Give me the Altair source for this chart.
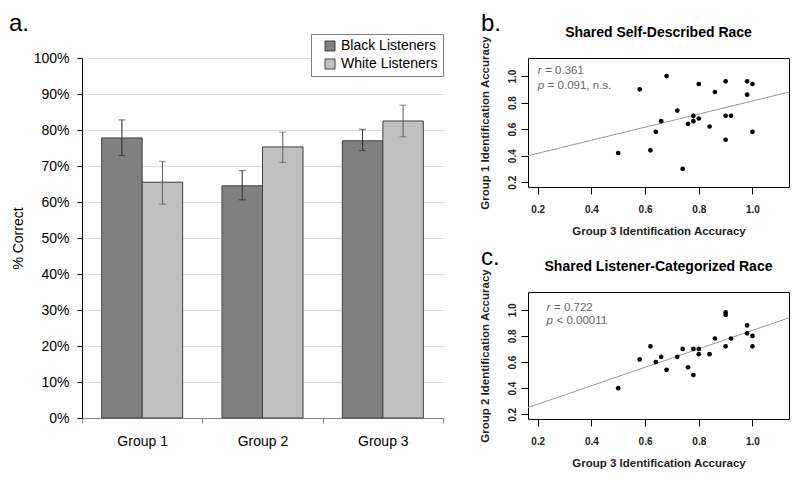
import altair as alt
import pandas as pd

FONT = "Liberation Sans"

# ---------------- panel a: bar chart ----------------
groups = ["Group 1", "Group 2", "Group 3"]
listeners = ["Black Listeners", "White Listeners"]
black_mean = [0.778, 0.645, 0.770]
white_mean = [0.655, 0.753, 0.825]
black_lo = [0.729, 0.606, 0.743]
black_hi = [0.828, 0.687, 0.802]
white_lo = [0.594, 0.710, 0.781]
white_hi = [0.713, 0.794, 0.869]
y_ticks = [0.0, 0.1, 0.2, 0.3, 0.4, 0.5, 0.6, 0.7, 0.8, 0.9, 1.0]
bar_colors = ["#808080", "#c0c0c0"]
err_colors = ["#2a2a2a", "#5a5a5a"]

# ---------------- panels b and c: scatter ----------------
group3_acc = [0.50, 0.58, 0.62, 0.64, 0.66, 0.68, 0.72, 0.74, 0.76, 0.78, 0.78, 0.80,
              0.80, 0.84, 0.86, 0.90, 0.90, 0.90, 0.92, 0.98, 0.98, 1.00, 1.00]
group1_acc = [0.42, 0.90, 0.44, 0.58, 0.66, 1.00, 0.74, 0.30, 0.64, 0.70, 0.66, 0.94,
              0.68, 0.62, 0.88, 0.96, 0.70, 0.52, 0.70, 0.96, 0.86, 0.94, 0.58]
group2_acc = [0.40, 0.62, 0.72, 0.60, 0.64, 0.54, 0.64, 0.70, 0.56, 0.70, 0.50, 0.70,
              0.66, 0.66, 0.78, 0.98, 0.96, 0.72, 0.78, 0.88, 0.82, 0.80, 0.72]
sc_ticks = [0.2, 0.4, 0.6, 0.8, 1.0]
sc_domain = [0.164, 1.136]

bar_df = pd.DataFrame({
    "group": groups * 2,
    "listener": [listeners[0]] * 3 + [listeners[1]] * 3,
    "mean": black_mean + white_mean,
    "lo": black_lo + white_lo,
    "hi": black_hi + white_hi,
    "ecolor": [err_colors[0]] * 3 + [err_colors[1]] * 3,
})

BW, BH = 361, 360

x_scale = alt.Scale(domain=groups, paddingInner=0, paddingOuter=0)
xo_scale = alt.Scale(domain=listeners, paddingInner=0, paddingOuter=0.485)

x_enc = alt.X("group:N", scale=x_scale, sort=groups,
              axis=alt.Axis(title=None, labelAngle=0, tickBand="extent",
                            labelFont=FONT, labelFontSize=14, labelColor="black",
                            labelPadding=11, tickSize=5, tickColor="#868686",
                            domainColor="#868686", grid=False))
xo_enc = alt.XOffset("listener:N", scale=xo_scale, sort=listeners)
y_scale = alt.Scale(domain=[0, 1], nice=False, zero=True)

bars = alt.Chart(bar_df).mark_bar(stroke="#404040", strokeWidth=1).encode(
    x=x_enc,
    xOffset=xo_enc,
    y=alt.Y("mean:Q", scale=y_scale,
            axis=alt.Axis(values=y_ticks, tickCount=20, format=".0%", title="% Correct",
                          labelOverlap=False,
                          labelFont=FONT, labelFontSize=14, labelColor="black",
                          labelPadding=8, tickSize=5, tickColor="black",
                          domainColor="black", gridColor="#d9d9d9", grid=True,
                          titleFont=FONT, titleFontSize=14, titleFontWeight="normal",
                          titleColor="black", titlePadding=8,
                          minExtent=49, maxExtent=49)),
    color=alt.Color("listener:N", scale=alt.Scale(domain=listeners, range=bar_colors),
                    legend=alt.Legend(title=None, orient="none", legendX=229, legendY=-24,
                                      direction="vertical", symbolType="square",
                                      symbolSize=100, symbolStrokeColor="#404040",
                                      symbolStrokeWidth=1, labelFont=FONT,
                                      labelFontSize=14, labelColor="black",
                                      labelExpr="datum.label + '   '",
                                      padding=5, symbolOffset=7,
                                      strokeColor="#7f7f7f",
                                      fillColor="white", rowPadding=4, labelOffset=4)),
)

err_rule = alt.Chart(bar_df).mark_rule(strokeWidth=1).encode(
    x=alt.X("group:N", scale=x_scale, sort=groups),
    xOffset=alt.XOffset("listener:N", scale=xo_scale, sort=listeners),
    y=alt.Y("lo:Q", scale=y_scale),
    y2="hi:Q",
    stroke=alt.Stroke("ecolor:N", scale=None),
)

err_caps = alt.Chart(bar_df).transform_fold(["lo", "hi"], as_=["end", "val"]).mark_tick(
    thickness=1, size=7).encode(
    x=alt.X("group:N", scale=x_scale, sort=groups),
    xOffset=alt.XOffset("listener:N", scale=xo_scale, sort=listeners),
    y=alt.Y("val:Q", scale=y_scale),
    fill=alt.Fill("ecolor:N", scale=None),
)

a_label = alt.Chart(pd.DataFrame({"t": ["a."]})).mark_text(
    font=FONT, fontSize=24, align="left", baseline="alphabetic", color="black").encode(
    x=alt.value(-73), y=alt.value(-27), text="t:N")

bar_chart = alt.layer(bars, err_rule, err_caps, a_label).properties(width=BW, height=BH)


def scatter(xs, ys, letter, title, ytitle, r_txt, p_txt, r_y, p_y, t_x, h):
    df = pd.DataFrame({"x": xs, "y": ys})
    sx = alt.Scale(domain=sc_domain, nice=False, zero=False)
    sy = alt.Scale(domain=sc_domain, nice=False, zero=False)
    xax = alt.Axis(values=sc_ticks, tickCount=20, format=".1f", domain=False, grid=False,
                   labelOverlap=False,
                   tickSize=7, tickColor="black", labelFont=FONT, labelFontSize=10,
                   labelFontWeight="bold", labelColor="#222", labelPadding=10,
                   title="Group 3 Identification Accuracy", titleFont=FONT,
                   titleFontSize=11.5, titleFontWeight="bold", titleColor="#222",
                   titlePadding=11)
    yax = alt.Axis(values=sc_ticks, tickCount=20, format=".1f", domain=False, grid=False,
                   labelOverlap=False,
                   tickSize=7, tickColor="black", labelFont=FONT, labelFontSize=10,
                   labelFontWeight="bold", labelColor="#222", labelAngle=270,
                   labelAlign="center", labelBaseline="bottom", labelPadding=4,
                   minExtent=22, maxExtent=22,
                   title=ytitle, titleFont=FONT, titleFontSize=11.5,
                   titleFontWeight="bold", titleColor="#222", titlePadding=16)
    pts = alt.Chart(df).mark_circle(size=22, color="black", opacity=1).encode(
        x=alt.X("x:Q", scale=sx, axis=xax), y=alt.Y("y:Q", scale=sy, axis=yax))
    line = alt.Chart(df).transform_regression("x", "y", extent=sc_domain).mark_line(
        color="#9a9a9a", strokeWidth=1).encode(x="x:Q", y="y:Q")
    ann = pd.DataFrame({"x": [t_x, t_x], "y": [r_y, p_y], "sym": ["r", "p"],
                        "rest": [r_txt, p_txt]})
    sym = alt.Chart(ann).mark_text(font=FONT, fontSize=11.5, fontStyle="italic",
                                   align="left", baseline="middle", color="#666").encode(
        x="x:Q", y="y:Q", text="sym:N")
    rest_r = alt.Chart(ann).transform_filter(alt.datum.sym == "r").mark_text(
        font=FONT, fontSize=11.5, align="left", baseline="middle", color="#666", dx=7.5).encode(
        x="x:Q", y="y:Q", text="rest:N")
    rest_p = alt.Chart(ann).transform_filter(alt.datum.sym == "p").mark_text(
        font=FONT, fontSize=11.5, align="left", baseline="middle", color="#666", dx=10).encode(
        x="x:Q", y="y:Q", text="rest:N")
    ttl = alt.Chart(pd.DataFrame({"t": [title]})).mark_text(
        font=FONT, fontSize=14, fontWeight="bold", align="center", baseline="middle",
        color="black").encode(x=alt.value(130.5), y=alt.value(-25), text="t:N")
    let = alt.Chart(pd.DataFrame({"t": [letter]})).mark_text(
        font=FONT, fontSize=24, align="left", baseline="alphabetic", color="black").encode(
        x=alt.value(-47), y=alt.value(-27), text="t:N")
    return alt.layer(line, pts, sym, rest_r, rest_p, ttl, let).properties(
        width=261, height=h,
        view=alt.ViewBackground(stroke="black", strokeWidth=1))


chart_b = scatter(group3_acc, group1_acc, "b.", "Shared Self-Described Race",
                  "Group 1 Identification Accuracy", "= 0.361", "= 0.091, n.s.",
                  1.037, 0.926, 0.2, 129)
chart_c = scatter(group3_acc, group2_acc, "c.", "Shared Listener-Categorized Race",
                  "Group 2 Identification Accuracy", "= 0.722", "< 0.00011",
                  1.015, 0.912, 0.233, 127)

chart = alt.hconcat(
    bar_chart,
    alt.vconcat(chart_b, chart_c, spacing=8),
    spacing=34,
).properties(padding={"top": 3, "left": 0, "right": 0, "bottom": 0},
             background="white").configure_view(stroke="transparent")

chart.save("out.html", embed_options={"renderer": "svg", "actions": False})
